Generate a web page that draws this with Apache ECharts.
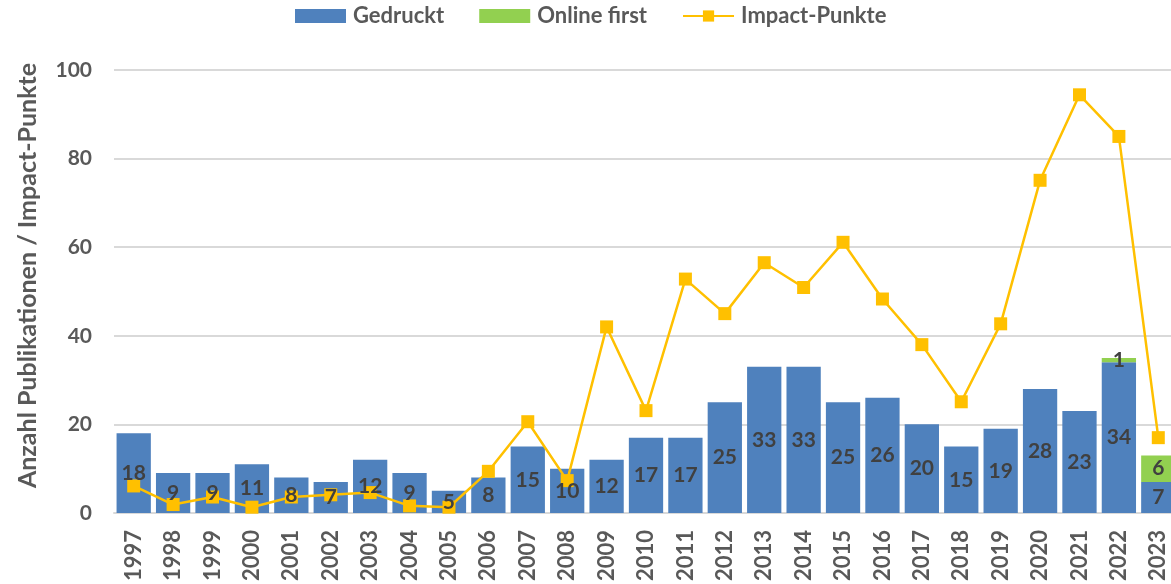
<!DOCTYPE html>
<html>
<head>
<meta charset="utf-8">
<script src="https://cdn.jsdelivr.net/npm/echarts@6/dist/echarts.min.js"></script>
<style>
  html, body { margin: 0; padding: 0; background: #fff; overflow: hidden; }
  /* Zeichenfläche etwas breiter als das Fenster: die letzte Kategorie wird rechts angeschnitten */
  #chart { width: 1178px; height: 584px; }
</style>
</head>
<body>
<div id="chart"></div>
<script>
// Jahre der Publikationen
const years = ['1997','1998','1999','2000','2001','2002','2003','2004','2005','2006',
  '2007','2008','2009','2010','2011','2012','2013','2014','2015','2016',
  '2017','2018','2019','2020','2021','2022','2023'];

// Anzahl gedruckter Publikationen
const gedruckt = [18, 9, 9, 11, 8, 7, 12, 9, 5, 8,
  15, 10, 12, 17, 17, 25, 33, 33, 25, 26,
  20, 15, 19, 28, 23, 34, 7];

// Online-first-Publikationen (noch nicht gedruckt)
const onlineFirst = [0, 0, 0, 0, 0, 0, 0, 0, 0, 0,
  0, 0, 0, 0, 0, 0, 0, 0, 0, 0,
  0, 0, 0, 0, 0, 1, 6];

// Impact-Punkte pro Jahr
const impactPunkte = [6.1, 1.9, 3.6, 1.3, 3.6, 4.1, 4.6, 1.6, 1.3, 9.4,
  20.6, 7.3, 42.0, 23.1, 52.8, 45.0, 56.5, 50.9, 61.1, 48.3,
  38.0, 25.1, 42.7, 75.1, 94.4, 85.0, 17.0];

// Achsenskala
const yMin = 0, yMax = 100, yStep = 20;

const FONT = 'Lato, "Open Sans", sans-serif';
const GREY = '#595959';
const LABEL = '#404040';

const valueLabel = {
  show: true,
  position: 'inside',
  color: LABEL,
  fontSize: 21,
  fontWeight: 'bold',
  fontFamily: FONT,
  formatter: p => (p.value ? String(p.value) : '')
};

const chart = echarts.init(document.getElementById('chart'), null, { renderer: 'canvas' });

chart.setOption({
  animation: false,
  textStyle: { fontFamily: FONT },
  legend: {
    top: 5,
    left: 295,
    padding: 0,
    itemWidth: 51,
    itemHeight: 14,
    itemGap: 35,
    textStyle: { color: GREY, fontSize: 22, fontWeight: 'bold', fontFamily: FONT, padding: [0, 0, 0, 2] },
    data: [
      { name: 'Gedruckt', icon: 'rect' },
      { name: 'Online first', icon: 'rect' },
      { name: 'Impact-Punkte' }
    ]
  },
  grid: { left: 114, right: 0, top: 70, bottom: 69, containLabel: false },
  xAxis: {
    type: 'category',
    data: years,
    axisLine: { show: true, lineStyle: { color: '#d9d9d9', width: 2 } },
    axisTick: { show: false },
    axisLabel: {
      rotate: 90,
      margin: 17,
      color: GREY,
      fontSize: 22,
      fontWeight: 'bold',
      fontFamily: FONT,
      interval: 0
    }
  },
  yAxis: {
    type: 'value',
    min: yMin,
    max: yMax,
    interval: yStep,
    name: 'Anzahl Publikationen / Impact-Punkte',
    nameLocation: 'middle',
    nameGap: 74,
    nameTextStyle: { color: GREY, fontSize: 25, fontWeight: 'bold', fontFamily: FONT, padding: [0, 0, 0, 32] },
    axisLine: { show: false },
    axisTick: { show: false },
    axisLabel: { color: GREY, fontSize: 21, fontWeight: 'bold', fontFamily: FONT, margin: 22 },
    splitLine: { lineStyle: { color: '#d9d9d9', width: 2 } }
  },
  series: [
    // Balken (unterste Ebene)
    {
      name: 'Gedruckt',
      type: 'bar',
      stack: 'pub',
      data: gedruckt,
      barCategoryGap: '13%',
      itemStyle: { color: '#4F81BD' },
      z: 1
    },
    {
      name: 'Online first',
      type: 'bar',
      stack: 'pub',
      data: onlineFirst,
      itemStyle: { color: '#92D050' },
      z: 1
    },
    // Impact-Linie über den Balken
    {
      name: 'Impact-Punkte',
      type: 'line',
      data: impactPunkte,
      symbol: 'rect',
      symbolSize: 13,
      lineStyle: { color: '#FFC000', width: 2.5 },
      itemStyle: { color: '#FFC000' },
      z: 2
    },
    // Transparente Deckbalken tragen die Zahlenwerte über der Linie
    {
      name: 'Gedruckt-Werte',
      type: 'bar',
      stack: 'werte',
      barGap: '-100%',
      data: gedruckt,
      itemStyle: { color: 'rgba(0,0,0,0)' },
      label: valueLabel,
      silent: true,
      z: 3
    },
    {
      name: 'Online-first-Werte',
      type: 'bar',
      stack: 'werte',
      barGap: '-100%',
      data: onlineFirst,
      itemStyle: { color: 'rgba(0,0,0,0)' },
      label: valueLabel,
      silent: true,
      z: 3
    }
  ]
});
</script>
</body>
</html>
